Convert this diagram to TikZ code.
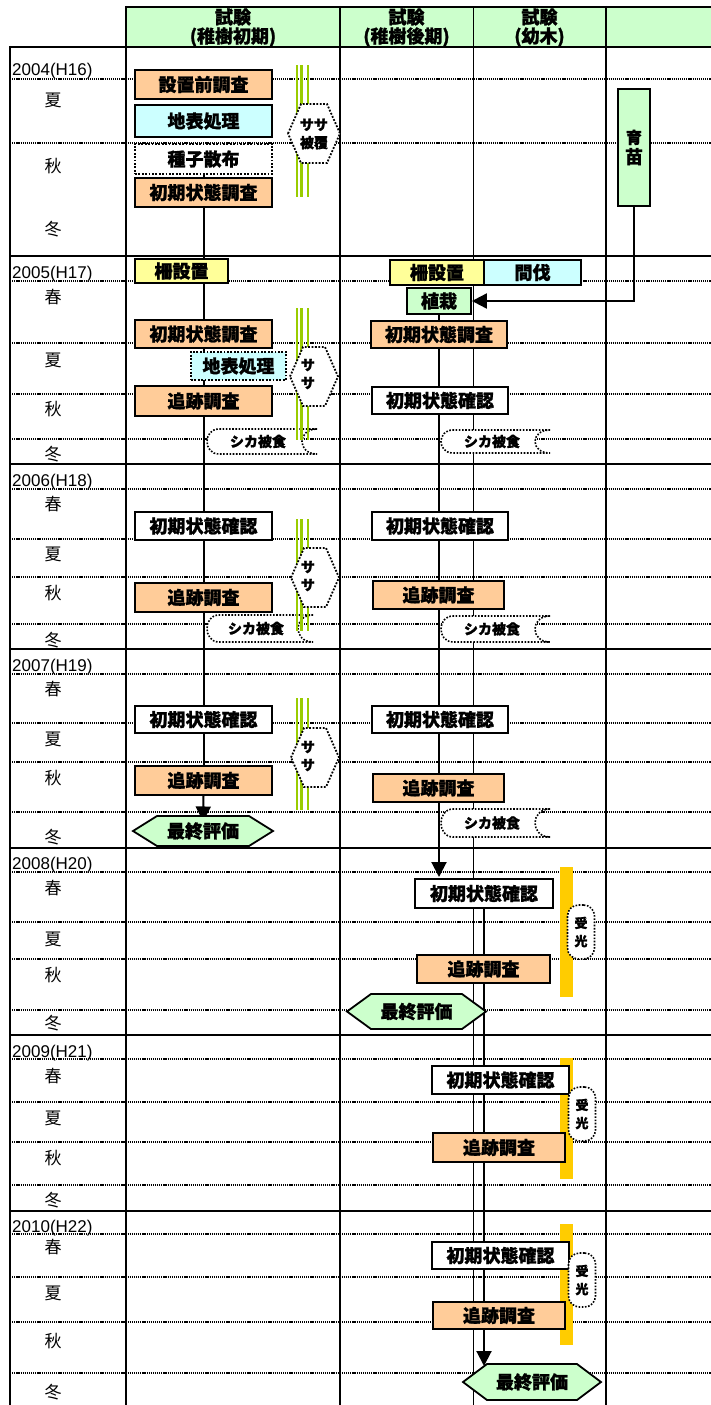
\documentclass[tikz,border=0pt]{standalone}
\usepackage{fontspec}
\newfontfamily\cjk[BoldFeatures={FakeBold=1.2}]{Noto Sans CJK JP}
\newfontfamily\lat{Liberation Sans}
\usetikzlibrary{arrows.meta}
\pgfdeclarelayer{grid}\pgfdeclarelayer{flow}
\pgfsetlayers{grid,flow,main}
\definecolor{cOr}{HTML}{FFCC99}
\definecolor{cCy}{HTML}{CCFFFF}
\definecolor{cYl}{HTML}{FFFF99}
\definecolor{cGr}{HTML}{CCFFCC}
\definecolor{cSasa}{HTML}{99CC00}
\definecolor{cGold}{HTML}{FFCC00}
\tikzset{
 flowbox/.style={draw=black, line width=1.8pt, inner sep=0pt, align=center, font=\cjk\bfseries\fontsize{18}{20}\selectfont},
 orb/.style={fill=cOr}, cyb/.style={fill=cCy}, ylb/.style={fill=cYl}, grb/.style={fill=cGr}, whb/.style={fill=white},
 dotb/.style={dash pattern=on 1.8pt off 1.6pt},
 hexfin/.style={draw=black, line width=1.8pt, fill=cGr},
 hexsasa/.style={draw=black, line width=1.8pt, fill=white, dash pattern=on 1.8pt off 1.6pt},
 shk/.style={draw=black, line width=1.6pt, fill=white, dash pattern=on 1.6pt off 1.6pt},
 smalltxt/.style={inner sep=0pt, align=center, font=\cjk\bfseries\fontsize{14}{18}\selectfont},
 juko/.style={draw=black, line width=1.6pt, fill=white, dash pattern=on 1.6pt off 1.6pt, rounded corners=11pt, inner sep=0pt, minimum width=27pt, minimum height=54pt, align=center, font=\cjk\bfseries\fontsize{13}{18}\selectfont},
 yr/.style={anchor=base west, inner sep=0pt, font=\lat\fontsize{17}{20}\selectfont},
 ssn/.style={inner sep=0pt, font=\cjk\fontsize{17}{20}\selectfont},
 hdr/.style={inner sep=0pt, align=center, font=\cjk\bfseries\fontsize{18}{19}\selectfont},
 thickln/.style={line width=2pt, black},
 thinln/.style={line width=1pt, black},
 dotln/.style={line width=1.3pt, black, dash pattern=on 1.2pt off 0.9pt},
 flowln/.style={line width=2pt, black},
 arr/.style={line width=2pt, black, -{Triangle[width=15pt,length=15pt]}}
}
\newcommand\bx[7][]{\node[flowbox,#1,minimum width={#5-#3},minimum height={#6-#4}] (#2) at ({(#3+#5)/2},{(#4+#6)/2}) {#7};}
\newcommand\hexpath[6][]{\path[#1] ({#2},{(#3+#5)/2}) -- ({#2+#6},{#3}) -- ({#4-#6},{#3}) -- ({#4},{(#3+#5)/2}) -- ({#4-#6},{#5}) -- ({#2+#6},{#5}) -- cycle;}
\newcommand\shikapath[4]{\path[shk] ({#3},{#2}) -- ({#1+12},{#2}) .. controls ({#1-4},{#2}) and ({#1-4},{#4}) .. ({#1+12},{#4}) -- ({#3},{#4}) .. controls ({#3-20},{#4}) and ({#3-20},{#2}) .. ({#3},{#2}) -- cycle;}
\newcommand\sasabars[2]{\fill[cSasa] (295.8,#1) rectangle (298.4,#2); \fill[cSasa] (300,#1) rectangle (302.6,#2); \fill[cSasa] (306.6,#1) rectangle (309.4,#2);}
\begin{document}
\begin{tikzpicture}[x=1pt,y=-1pt]
\useasboundingbox (0,0) rectangle (711,1405);
% ---------------- grid
\begin{pgfonlayer}{grid}
\fill[cGr] (126,7) rectangle (711,47);
\foreach \y in {79,143,281,343,394,439,489,539,577,624,674,723,762,812,872,922,959,1010,1059,1102,1142,1185,1234,1277,1322,1373}
  \draw[dotln] (10,\y) -- (711,\y);
\draw[thickln] (126,7) -- (711,7);
\foreach \y in {47,256,464,649,848,1035,1211}
  \draw[thickln] (10,\y) -- (711,\y);
\draw[thickln] (10,46) -- (10,1405);
\foreach \x in {126,340,606} \draw[thickln] (\x,6) -- (\x,1405);
\draw[thinln] (473,7) -- (473,1405);
\end{pgfonlayer}
% ---------------- header
\node[hdr] (hd1) at (233,27.5) {試験\\(稚樹初期)};
\node[hdr] (hd2) at (406.5,27.5) {試験\\(稚樹後期)};
\node[hdr] (hd3) at (539.5,27.5) {試験\\(幼木)};
% ---------------- years
\node[yr] (y2004) at (12,76) {2004(H16)};
\node[yr] (y2005) at (12,278) {2005(H17)};
\node[yr] (y2006) at (12,486) {2006(H18)};
\node[yr] (y2007) at (12,671) {2007(H19)};
\node[yr] (y2008) at (12,869) {2008(H20)};
\node[yr] (y2009) at (12,1057) {2009(H21)};
\node[yr] (y2010) at (12,1232) {2010(H22)};
\foreach \t/\y [count=\i] in {夏/100,秋/166,冬/229,春/297,夏/360,秋/409,冬/454,春/504,夏/554,秋/593,冬/640,春/689,夏/739,秋/778,冬/837,春/888,夏/939,秋/975,冬/1023,春/1076,夏/1118,秋/1158,冬/1200,春/1247,夏/1293,秋/1341,冬/1392}
  \node[ssn] (ssn\i) at (53,\y) {\t};
% ---------------- shika shapes (below sasa bars)
\shikapath{207}{429}{317}{454}
\node[smalltxt] (shika05a) at (258,441.5) {シカ被食};
\shikapath{441}{430}{550}{453}
\node[smalltxt] (shika05b) at (492,441.5) {シカ被食};
\shikapath{207}{615}{313}{642}
\node[smalltxt] (shika06a) at (256,628.5) {シカ被食};
\shikapath{441}{616}{550}{642}
\node[smalltxt] (shika06b) at (492,629) {シカ被食};
\shikapath{441}{809}{550}{837}
\node[smalltxt] (shika07b) at (492,823) {シカ被食};
% ---------------- sasa bars and hexagons
\sasabars{65}{197}
\sasabars{308}{440}
\sasabars{519}{631}
\sasabars{698}{810}
\hexpath[hexsasa]{288}{104}{340}{163}{13}
\node[smalltxt] (sasa04) at (314,134) {ササ\\被覆};
\hexpath[hexsasa]{290}{347}{338}{406}{13}
\node[smalltxt] (sasa05) at (308,374) {サ\\サ};
\hexpath[hexsasa]{291}{548}{339}{607}{13}
\node[smalltxt] (sasa06) at (308,576) {サ\\サ};
\hexpath[hexsasa]{291}{728}{339}{787}{13}
\node[smalltxt] (sasa07) at (308,756) {サ\\サ};
% ---------------- light bars
\fill[cGold] (560,867) rectangle (573,997);
\fill[cGold] (560,1058) rectangle (573,1179);
\fill[cGold] (560,1224) rectangle (573,1345);
% ---------------- column 1 boxes
\bx[orb]{setchi}{135}{70}{272}{99}{設置前調査}
\bx[cyb]{chihyo04}{135}{105}{272}{137}{地表処理}
\bx[whb,dotb]{tane}{135}{144}{272}{174}{種子散布}
\bx[orb]{shoki04}{135}{178}{272}{207}{初期状態調査}
\bx[ylb]{saku05a}{135}{259}{228}{283}{柵設置}
\bx[orb]{shoki05a}{135}{320}{272}{348}{初期状態調査}
\bx[cyb,dotb]{chihyo05}{191}{352}{286}{380}{地表処理}
\bx[orb]{tsui05a}{135}{386}{272}{416}{追跡調査}
\bx[whb]{kakunin06a}{135}{512}{272}{540}{初期状態確認}
\bx[orb]{tsui06a}{135}{583}{272}{612}{追跡調査}
\bx[whb]{kakunin07a}{135}{706}{272}{733}{初期状態確認}
\bx[orb]{tsui07a}{135}{766}{272}{795}{追跡調査}
\hexpath[hexfin]{133}{816}{273}{846}{24}
\node[flowbox,draw=none] (final07) at (203,831) {最終評価};
% ---------------- column 2/3 boxes
\bx[ylb]{saku05b}{390}{260}{484}{285}{柵設置}
\bx[cyb]{kanbatsu}{484}{260}{581}{285}{間伐}
\bx[grb]{shokusai}{407}{288}{471}{314}{植栽}
\bx[orb]{shoki05b}{371}{321}{507}{348}{初期状態調査}
\bx[whb]{kakunin05b}{372}{387}{508}{414}{初期状態確認}
\bx[whb]{kakunin06b}{372}{512}{508}{540}{初期状態確認}
\bx[orb]{tsui06b}{373}{581}{504}{609}{追跡調査}
\bx[whb]{kakunin07b}{372}{706}{508}{733}{初期状態確認}
\bx[orb]{tsui07b}{373}{774}{504}{802}{追跡調査}
\bx[whb]{kakunin08}{415}{879}{553}{908}{初期状態確認}
\bx[orb]{tsui08}{417}{955}{550}{983}{追跡調査}
\hexpath[hexfin]{347}{994}{486}{1029}{24}
\node[flowbox,draw=none] (final08) at (416.5,1011.5) {最終評価};
\bx[whb]{kakunin09}{432}{1066}{569}{1094}{初期状態確認}
\bx[orb]{tsui09}{433}{1133}{565}{1162}{追跡調査}
\bx[whb]{kakunin10}{432}{1242}{569}{1269}{初期状態確認}
\bx[orb]{tsui10}{433}{1302}{565}{1329}{追跡調査}
\hexpath[hexfin]{463}{1364}{601}{1400}{24}
\node[flowbox,draw=none] (final10) at (532,1382) {最終評価};
\bx[grb]{ikubyo}{618}{89}{650}{206}{\fontsize{16}{20}\selectfont 育\\苗}
% ---------------- light labels
\node[juko] (juko08) at (581,932) {受\\光};
\node[juko] (juko09) at (582,1114) {受\\光};
\node[juko] (juko10) at (582,1280) {受\\光};
% ---------------- flow lines
\coordinate (tip08) at (439,877);
\coordinate (tip10) at (484,1366);
\begin{pgfonlayer}{flow}
\draw[flowln] (tane.south) -- (shoki04.north);
\draw[flowln] (shoki04.south) -- (tsui07a.north);
\draw[arr] (tsui07a.south) -- (final07.north);
\draw[arr] (shokusai.south) -- (tip08);
\draw[arr] (kakunin08.south) -- (tip10);
\draw[arr] (ikubyo.south) |- (shokusai.east);
\end{pgfonlayer}
\end{tikzpicture}
\end{document}
